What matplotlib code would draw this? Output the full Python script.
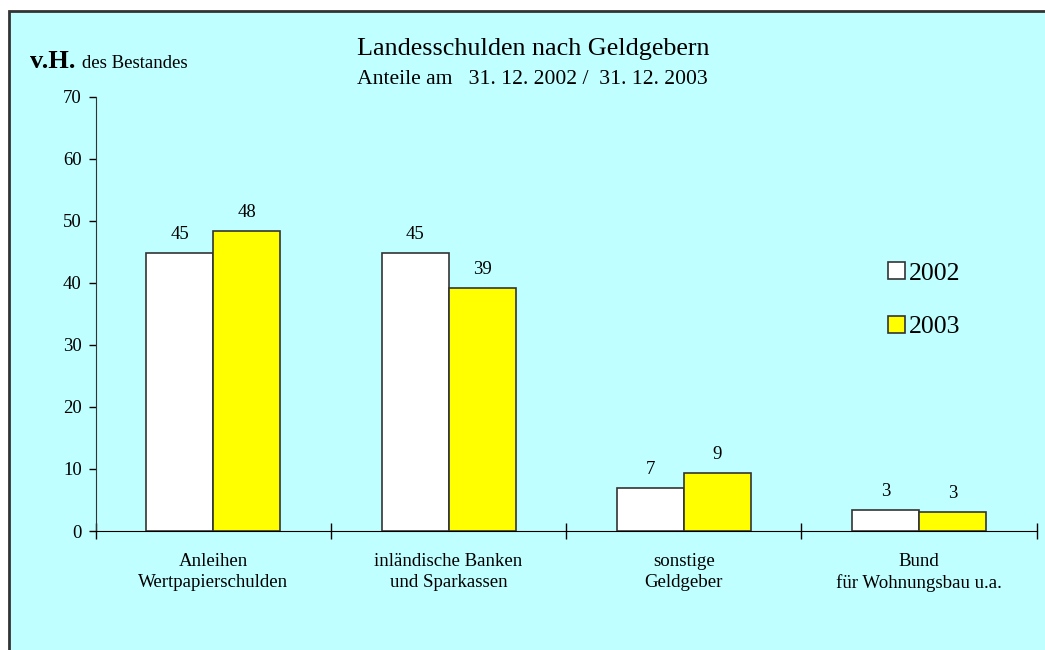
import numpy as np
import matplotlib.pyplot as plt
from matplotlib.patches import Rectangle

# Data (v.H. des Bestandes)
categories = ['Anleihen\nWertpapierschulden', 'inländische Banken\nund Sparkassen',
              'sonstige\nGeldgeber', 'Bund\nfür Wohnungsbau u.a.']
values_2002 = [44.8, 44.8, 7.0, 3.4]
values_2003 = [48.4, 39.2, 9.4, 3.1]
labels_2002 = ['45', '45', '7', '3']
labels_2003 = ['48', '39', '9', '3']
series_names = ['2002', '2003']

bg = '#C0FFFF'
plt.rcParams['font.family'] = ['Liberation Serif', 'DejaVu Serif']

fig = plt.figure(figsize=(10.45, 6.5), dpi=100)
fig.patch.set_facecolor('white')

# cyan panel with dark border on the left/top
fig.patches.append(Rectangle((9 / 1045, -0.05), 1.2, 1.05 - 11 / 650, transform=fig.transFigure,
                             facecolor=bg, edgecolor='#333333', linewidth=2, zorder=-5))

ax = fig.add_axes([95.7 / 1045, 1 - 531 / 650, 941 / 1045, (531 - 96.7) / 650])
ax.set_facecolor('none')
ax.set_zorder(1)

x = np.arange(len(categories))
w = 0.285
ax.bar(x - w / 2, values_2002, w, color='white', edgecolor='#333333', linewidth=1.2, zorder=3)
ax.bar(x + w / 2, values_2003, w, color='#FFFF00', edgecolor='#333333', linewidth=1.2, zorder=3)

for i in range(len(categories)):
    ax.annotate(labels_2002[i], (x[i] - w / 2, values_2002[i]), xytext=(0, 7),
                textcoords='offset points', ha='center', va='bottom', fontsize=13.5)
    ax.annotate(labels_2003[i], (x[i] + w / 2, values_2003[i]), xytext=(0, 7),
                textcoords='offset points', ha='center', va='bottom', fontsize=13.5)

ax.set_xlim(-0.5, len(categories) - 0.5)
ax.set_ylim(0, 70)
ax.set_yticks(range(0, 71, 10))
ax.tick_params(axis='y', direction='out', length=5, width=1, pad=5, labelsize=13.5)

ax.set_xticks(x)
ax.set_xticklabels(categories, fontsize=13.6, linespacing=1.3)
ax.tick_params(axis='x', which='major', length=0, pad=16)
ax.set_xticks(np.arange(-0.5, len(categories)), minor=True)
ax.tick_params(axis='x', which='minor', direction='inout', length=12, width=1)

for s in ['top', 'right']:
    ax.spines[s].set_visible(False)
ax.spines['left'].set_color('#333333')
ax.spines['bottom'].set_color('black')

# titles
fig.text(357 / 1045, 1 - 49 / 650, 'Landesschulden nach Geldgebern', fontsize=18.8, va='center')
fig.text(357 / 1045, 1 - 79 / 650, 'Anteile am   31. 12. 2002 /  31. 12. 2003', fontsize=15.6, va='center')
fig.text(30 / 1045, 1 - 68 / 650, 'v.H.', fontsize=19, fontweight='bold', va='baseline')
fig.text(82 / 1045, 1 - 68 / 650, 'des Bestandes', fontsize=13.5, va='baseline')

# legend
handles = [Rectangle((0, 0), 1, 1, facecolor='white', edgecolor='#333333', linewidth=1.2),
           Rectangle((0, 0), 1, 1, facecolor='#FFFF00', edgecolor='#333333', linewidth=1.2)]
leg = fig.legend(handles, series_names, loc='upper left', bbox_to_anchor=(878 / 1045, 1 - 252 / 650),
                 frameon=False, fontsize=18.5, handlelength=0.65, handleheight=0.65,
                 handletextpad=0.15, labelspacing=1.2, borderaxespad=0)

fig.savefig('out.png', dpi=100)
